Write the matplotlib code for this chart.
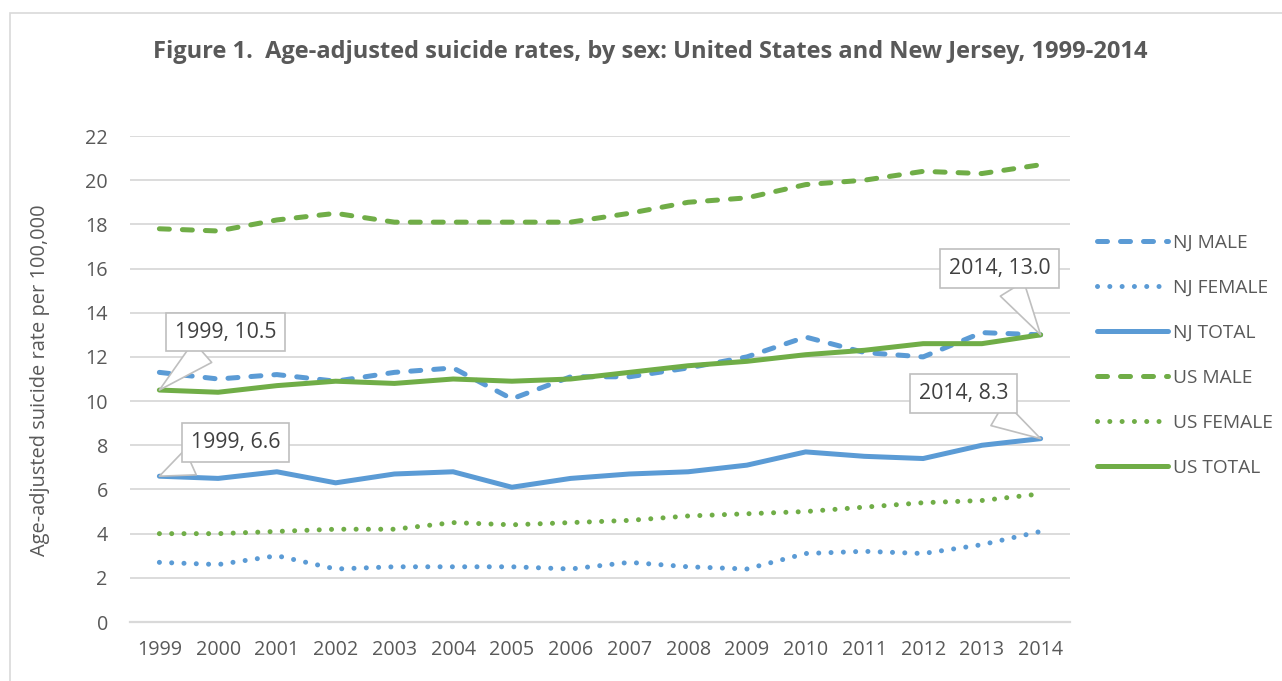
import matplotlib
matplotlib.use("Agg")
import matplotlib.pyplot as plt
from matplotlib.patches import Rectangle

plt.rcParams['font.family'] = ['Open Sans', 'DejaVu Sans']

years = list(range(1999, 2015))
nj_male = [11.3, 11.0, 11.2, 10.9, 11.3, 11.5, 10.1, 11.1, 11.1, 11.5, 12.0, 12.9, 12.2, 12.0, 13.1, 13.0]
nj_female = [2.7, 2.6, 3.0, 2.4, 2.5, 2.5, 2.5, 2.4, 2.7, 2.5, 2.4, 3.1, 3.2, 3.1, 3.5, 4.1]
nj_total = [6.6, 6.5, 6.8, 6.3, 6.7, 6.8, 6.1, 6.5, 6.7, 6.8, 7.1, 7.7, 7.5, 7.4, 8.0, 8.3]
us_male = [17.8, 17.7, 18.2, 18.5, 18.1, 18.1, 18.1, 18.1, 18.5, 19.0, 19.2, 19.8, 20.0, 20.4, 20.3, 20.7]
us_female = [4.0, 4.0, 4.1, 4.2, 4.2, 4.5, 4.4, 4.5, 4.6, 4.8, 4.9, 5.0, 5.2, 5.4, 5.5, 5.8]
us_total = [10.5, 10.4, 10.7, 10.9, 10.8, 11.0, 10.9, 11.0, 11.3, 11.6, 11.8, 12.1, 12.3, 12.6, 12.6, 13.0]
yticks = list(range(0, 23, 2))

BLUE = '#5B9BD5'
GREEN = '#70AD47'
TEXT = '#595959'
GRID = '#D9D9D9'

W, H = 1282, 681
fig = plt.figure(figsize=(W / 100, H / 100), dpi=100)

# chart-area frame
fig.patches.append(Rectangle((10 / W, -0.1), 1.2, 1 - 13 / H + 0.1, transform=fig.transFigure,
                             fill=False, edgecolor=GRID, linewidth=1.2))

ax = fig.add_axes([130 / W, (H - 622) / H, 940 / W, 486 / H])

lw = 3.6
dash = (2.0, 2.6)
dot = (0.01, 2.45)

series = [
    ('NJ MALE', nj_male, BLUE, dash),
    ('NJ FEMALE', nj_female, BLUE, dot),
    ('NJ TOTAL', nj_total, BLUE, None),
    ('US MALE', us_male, GREEN, dash),
    ('US FEMALE', us_female, GREEN, dot),
    ('US TOTAL', us_total, GREEN, None),
]
lines = []
for label, vals, color, pattern in series:
    if pattern is None:
        ln, = ax.plot(years, vals, color=color, lw=lw, solid_capstyle='round',
                      solid_joinstyle='round', label=label, zorder=3)
    else:
        ln, = ax.plot(years, vals, color=color, lw=lw, dashes=pattern,
                      dash_capstyle='round', dash_joinstyle='round', label=label, zorder=3)
    lines.append(ln)

ax.set_xlim(1998.5, 2014.5)
ax.set_ylim(0, 22)
ax.set_yticks(yticks)
ax.set_xticks(years)
ax.grid(axis='y', color=GRID, linewidth=1.3)
ax.set_axisbelow(True)
for s in ['top', 'right', 'left']:
    ax.spines[s].set_visible(False)
ax.spines['bottom'].set_color(GRID)
ax.spines['bottom'].set_linewidth(1.6)
ax.tick_params(axis='both', length=0, labelsize=14.2, labelcolor=TEXT)
ax.tick_params(axis='y', pad=16)
ax.tick_params(axis='x', pad=13)

fig.text(40 / W, 1 - 380 / H, 'Age-adjusted suicide rate per 100,000', rotation=90,
         ha='center', va='center', fontsize=14.4, color=TEXT)

fig.text(650 / W, 1 - 52 / H,
         'Figure 1.  Age-adjusted suicide rates, by sex: United States and New Jersey, 1999-2014',
         ha='center', va='center', fontsize=17, fontweight='bold', color=TEXT)

# data callouts
callouts = [
    (1999, us_total[0], (66, 58)),
    (1999, nj_total[0], (76, 34)),
    (2014, us_total[-1], (-41, 66)),
    (2014, nj_total[-1], (-77, 45)),
]
for xv, yv, off in callouts:
    ax.annotate(f'{xv}, {yv:.1f}', xy=(xv, yv), xytext=off, textcoords='offset pixels',
                ha='center', va='center', fontsize=15.3, color='#404040', zorder=5,
                bbox=dict(boxstyle='square,pad=0.42', fc='white', ec='#BFBFBF', lw=1.2),
                arrowprops=dict(arrowstyle='wedge,tail_width=1.3,shrink_factor=0.5',
                                fc='white', ec='#BFBFBF', lw=1.2, shrinkA=0, shrinkB=0))

leg = fig.legend(handles=lines, loc='upper left', bbox_to_anchor=(1089 / W, 1 - 226 / H),
                 frameon=False, fontsize=13.8, labelcolor=TEXT, handlelength=3.7,
                 handletextpad=0.3, labelspacing=1.41, borderaxespad=0)

fig.savefig('out.png', dpi=100, facecolor='white')
